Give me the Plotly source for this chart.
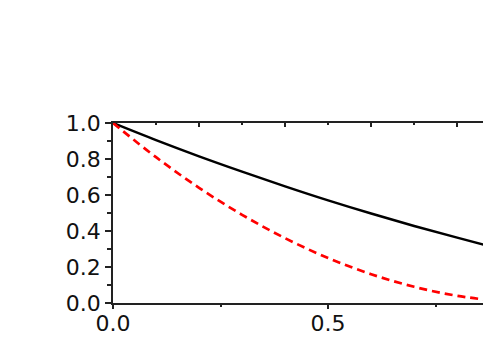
import plotly.graph_objects as go

# values
x_vals = [0.0, 0.1, 0.2, 0.3, 0.4, 0.5, 0.6, 0.7, 0.8, 0.9]
black_vals = [1.0, 0.905, 0.815, 0.73, 0.648, 0.57, 0.497, 0.428, 0.363, 0.30]
red_vals = [1.0, 0.81, 0.64, 0.49, 0.36, 0.25, 0.16, 0.09, 0.04, 0.01]

x_range = [0, 0.86]
y_range = [0, 1.0]

font = dict(family="DejaVu Sans", size=22, color="#111")
axis_color = "#222"

fig = go.Figure()
fig.add_trace(go.Scatter(x=x_vals, y=black_vals, mode="lines",
                         line=dict(color="black", width=2.5, shape="spline"),
                         showlegend=False))
fig.add_trace(go.Scatter(x=x_vals, y=red_vals, mode="lines",
                         line=dict(color="#ff0000", width=2.7, dash="8px,5px", shape="spline"),
                         showlegend=False))
# invisible trace so the top axis gets drawn
fig.add_trace(go.Scatter(x=[x_vals[0]], y=[red_vals[0]], xaxis="x2", mode="markers",
                         marker=dict(opacity=0), showlegend=False, hoverinfo="skip"))

fig.update_layout(
    width=483, height=345,
    margin=dict(l=113, r=0, t=123, b=42),
    paper_bgcolor="white", plot_bgcolor="white",
    font=font,
    xaxis=dict(range=x_range, dtick=0.5, tick0=0, tickformat=".1f",
               showgrid=False, zeroline=False,
               showline=True, linecolor=axis_color, linewidth=1.5,
               ticks="outside", ticklen=4, tickwidth=1.5, tickcolor=axis_color,
               minor=dict(dtick=0.25, ticks="outside", ticklen=2, tickwidth=1.5, tickcolor=axis_color),
               ticklabelstandoff=-4,
               tickfont=font),
    xaxis2=dict(range=x_range, overlaying="x", side="top", anchor="y",
                dtick=0.2, tick0=0, showticklabels=False,
                showgrid=False, zeroline=False,
                showline=True, linecolor=axis_color, linewidth=1.5,
                ticks="inside", ticklen=4, tickwidth=1.5, tickcolor=axis_color,
                minor=dict(dtick=0.1, ticks="inside", ticklen=2, tickwidth=1.5, tickcolor=axis_color)),
    yaxis=dict(range=y_range, dtick=0.2, tick0=0, tickformat=".1f",
               showgrid=False, zeroline=False,
               showline=True, linecolor=axis_color, linewidth=1.5,
               ticks="outside", ticklen=6, tickwidth=1.5, tickcolor=axis_color,
               minor=dict(dtick=0.1, ticks="outside", ticklen=4, tickwidth=1.5, tickcolor=axis_color),
               tickfont=font),
)

# the page body has a default 8px margin; drop it so the figure sits at the corner
fig.write_html("out.html", config={"displayModeBar": False},
               post_script="document.body.style.margin='0';")
